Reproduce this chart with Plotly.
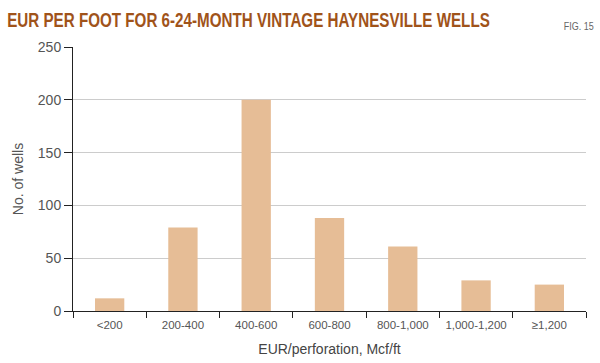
import plotly.graph_objects as go

categories = ["<200", "200-400", "400-600", "600-800", "800-1,000", "1,000-1,200", "≥1,200"]
wells = [12, 79, 200, 88, 61, 29, 25]
y_ticks = [0, 50, 100, 150, 200, 250]

fig = go.Figure(go.Bar(x=categories, y=wells, marker=dict(color="#e6bd96", line=dict(width=0))))

fig.update_layout(
    width=600, height=363,
    margin=dict(l=73, r=14, t=47, b=52),
    paper_bgcolor="white", plot_bgcolor="white",
    bargap=0.6,
    showlegend=False,
    font=dict(family="Liberation Sans, Arial", color="#444444", size=13),
)
fig.update_xaxes(
    type="category", automargin=False,
    showline=True, linecolor="#222222", linewidth=1,
    ticks="outside", tickson="boundaries", ticklen=6, tickcolor="#222222",
    tickangle=0, ticklabelstandoff=3,
    tickfont=dict(size=11.5, color="#555555"),
    title=dict(text="EUR/perforation, Mcf/ft", font=dict(size=14, color="#444444"), standoff=14),
    showgrid=False,
)
fig.update_yaxes(
    range=[0, 250], tickvals=y_ticks, automargin=False,
    showline=True, linecolor="#222222", linewidth=1,
    ticks="outside", ticklen=8, tickcolor="#222222",
    tickfont=dict(size=14, color="#555555"),
    showgrid=True, gridcolor="#cccccc", gridwidth=1,
    zeroline=False,
    title=dict(text="No. of wells", font=dict(size=14, color="#555555"), standoff=10),
)
fig.add_annotation(
    text="<b>EUR PER FOOT FOR 6-24-MONTH VINTAGE HAYNESVILLE WELLS</b>",
    xref="paper", yref="paper", x=0, y=1, xanchor="left", yanchor="bottom",
    xshift=-68, yshift=14,
    showarrow=False,
    font=dict(family="Liberation Sans, Arial", size=19.5, color="#a0531a"),
)
fig.add_annotation(
    text="FIG. 15",
    xref="paper", yref="paper", x=1, y=1, xanchor="right", yanchor="bottom",
    xshift=10, yshift=13,
    showarrow=False,
    font=dict(family="Liberation Sans, Arial", size=11, color="#666666"),
)

post = """
var gd = document.getElementById('{plot_id}');
document.body.style.margin = '0';
var els = gd.querySelectorAll('.annotation-text');
function squeeze(el, w, right) {
  var bb = el.getBBox();
  var s = w / bb.width;
  var ox = right ? (bb.x + bb.width) : bb.x;
  var prev = el.getAttribute('transform') || '';
  el.setAttribute('transform', prev + ' translate(' + (ox * (1 - s)) + ',0) scale(' + s + ',1)');
}
if (els.length >= 2) { squeeze(els[0], 483, false); squeeze(els[1], 30, true); }
"""
fig.write_html("out.html", post_script=post, config={"displayModeBar": False})
